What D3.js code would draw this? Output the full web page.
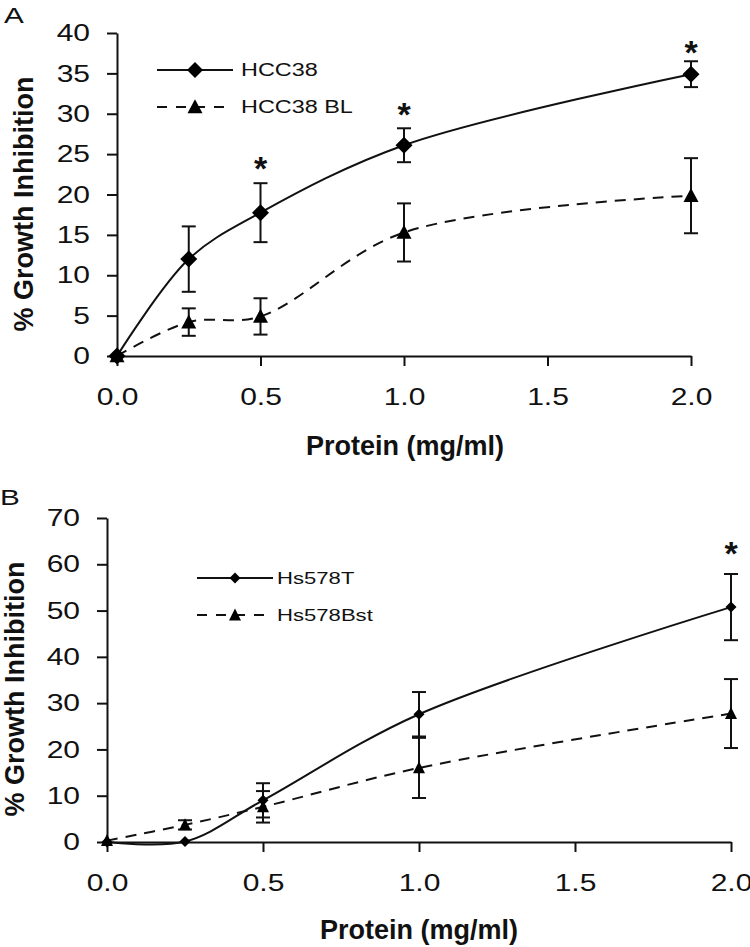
<!DOCTYPE html>
<html>
<head>
<meta charset="utf-8">
<script src="https://cdn.jsdelivr.net/npm/d3@7"></script>
<style>
  html, body { margin: 0; padding: 0; background: #fff; }
  svg { display: block; }
  text { font-family: "Liberation Sans", Arial, sans-serif; fill: #111; }
</style>
</head>
<body>
<svg id="chart" width="750" height="947"></svg>
<script>
// ---------- data ----------
const doses = [0, 0.25, 0.5, 1.0, 2.0];
const xTicks = [0, 0.5, 1.0, 1.5, 2.0];

// Panel A
const hcc38      = [0, 12.0, 17.75, 26.1, 34.9];
const hcc38Err   = [0, 4.05, 3.65, 2.1, 1.6];
const hcc38BL    = [0, 4.2, 4.9, 15.3, 19.85];
const hcc38BLErr = [0, 1.7, 2.25, 3.6, 4.65];
const yTicksA    = [0, 5, 10, 15, 20, 25, 30, 35, 40];
const starXA     = [0.5, 1.0, 2.0];
const starYA     = [24.0, 30.7, 38.4];

// Panel B
const hs578T      = [0, 0.1, 9.0, 27.6, 50.75];
const hs578TErr   = [0, 0, 3.7, 4.8, 7.15];
const hs578Bst    = [0.3, 3.7, 7.6, 16.0, 27.75];
const hs578BstErr = [0, 1.0, 3.4, 6.5, 7.45];
const yTicksB     = [0, 10, 20, 30, 40, 50, 60, 70];
const starXB      = [2.0];
const starYB      = [63.7];

// ---------- drawing ----------
const svg = d3.select("#chart");

function stretch(sel, k) {
  sel.each(function () {
    const len = this.getComputedTextLength();
    d3.select(this).attr("textLength", len * k).attr("lengthAdjust", "spacingAndGlyphs");
  });
}

function diamondPath(r) {
  return `M0,${-r}L${r},0L0,${r}L${-r},0Z`;
}
function trianglePath(w, h) {
  const top = -h * 0.55, bot = h * 0.45;
  return `M0,${top}L${w},${bot}L${-w},${bot}Z`;
}

function panel(cfg) {
  const x = d3.scaleLinear().domain([0, 2]).range(cfg.xr);
  const y = d3.scaleLinear().domain([0, cfg.ymax]).range(cfg.yr);
  const g = svg.append("g");

  // axes
  const yAxis = d3.axisLeft(y).tickValues(cfg.yTicks).tickSize(10).tickSizeOuter(0).tickPadding(17)
    .tickFormat(d3.format("d"));
  const xAxis = d3.axisBottom(x).tickValues(xTicks).tickSize(10).tickSizeOuter(0).tickPadding(22)
    .tickFormat(d3.format(".1f"));

  const gy = g.append("g").attr("transform", `translate(${cfg.xr[0]},0)`).call(yAxis);
  const gx = g.append("g").attr("transform", `translate(0,${cfg.yr[0]})`).call(xAxis);
  [gx, gy].forEach(a => {
    a.select(".domain").attr("stroke", "#111").attr("stroke-width", 2);
    a.selectAll(".tick line").attr("stroke", "#111").attr("stroke-width", 2);
    a.selectAll(".tick text").attr("font-size", 24).attr("fill", "#222")
      .attr("font-family", "Liberation Sans, Arial, sans-serif");
    stretch(a.selectAll(".tick text"), 1.25);
  });

  // lines
  const line = d3.line().x((d, i) => x(doses[i])).y(d => y(d)).curve(d3.curveCatmullRom.alpha(0.5));

  g.append("path").datum(cfg.s2).attr("d", line).attr("fill", "none")
    .attr("stroke", "#111").attr("stroke-width", 2).attr("stroke-dasharray", "11,8");
  g.append("path").datum(cfg.s1).attr("d", line).attr("fill", "none")
    .attr("stroke", "#111").attr("stroke-width", 2);

  // error bars
  function errBars(vals, errs) {
    const eg = g.append("g").attr("stroke", "#111").attr("stroke-width", 2);
    vals.forEach((v, i) => {
      const e = errs[i];
      if (!e) return;
      const cx = x(doses[i]);
      const y1 = y(v + e), y0 = y(v - e);
      eg.append("line").attr("x1", cx).attr("x2", cx).attr("y1", y1).attr("y2", y0);
      eg.append("line").attr("x1", cx - 7).attr("x2", cx + 7).attr("y1", y1).attr("y2", y1);
      eg.append("line").attr("x1", cx - 7).attr("x2", cx + 7).attr("y1", y0).attr("y2", y0);
    });
  }
  errBars(cfg.s2, cfg.e2);
  errBars(cfg.s1, cfg.e1);

  // markers
  g.append("g").selectAll("path").data(cfg.s2).join("path")
    .attr("transform", (d, i) => `translate(${x(doses[i])},${y(d)})`)
    .attr("d", trianglePath(cfg.triW, cfg.triH)).attr("fill", "#000");
  g.append("g").selectAll("path").data(cfg.s1).join("path")
    .attr("transform", (d, i) => `translate(${x(doses[i])},${y(d)})`)
    .attr("d", diamondPath(cfg.dia)).attr("fill", "#000");

  // significance asterisks
  const sfs = 34;
  cfg.starX.forEach((sx, i) => {
    g.append("text").attr("x", x(sx)).attr("y", y(cfg.starY[i]) + 0.52 * sfs)
      .attr("text-anchor", "middle").attr("font-size", sfs).attr("font-weight", "bold").text("*");
  });

  // legend
  const lg = g.append("g");
  cfg.legend.forEach((L, i) => {
    const ly = cfg.legY[i];
    lg.append("line").attr("x1", cfg.legX[0]).attr("x2", cfg.legX[1]).attr("y1", ly).attr("y2", ly)
      .attr("stroke", "#111").attr("stroke-width", 2)
      .attr("stroke-dasharray", i === 1 ? "10,9" : null);
    const mx = (cfg.legX[0] + cfg.legX[1]) / 2;
    lg.append("path").attr("transform", `translate(${mx},${ly})`)
      .attr("d", i === 0 ? diamondPath(cfg.legDia) : trianglePath(cfg.triW, cfg.triH)).attr("fill", "#000");
    const t = lg.append("text").attr("x", cfg.legTextX).attr("y", ly + cfg.legFs * 0.36)
      .attr("font-size", cfg.legFs).text(L);
    stretch(t, 1.3);
  });

  // axis titles
  g.append("text").attr("x", cfg.xTitle[0]).attr("y", cfg.xTitle[1]).attr("text-anchor", "middle")
    .attr("font-size", 27).attr("font-weight", "bold").text("Protein (mg/ml)");
  g.append("text").attr("transform", `translate(${cfg.yTitle[0]},${cfg.yTitle[1]}) rotate(-90)`)
    .attr("text-anchor", "middle").attr("font-size", 27).attr("font-weight", "bold").text("% Growth Inhibition");

  // panel letter
  const pl = g.append("text").attr("x", cfg.letter[0]).attr("y", cfg.letter[1]).attr("font-size", 22).text(cfg.name);
  stretch(pl, 1.35);
}

panel({
  name: "A", xr: [117, 691], yr: [356, 33], ymax: 40, yTicks: yTicksA,
  s1: hcc38, e1: hcc38Err, s2: hcc38BL, e2: hcc38BLErr,
  dia: 8.5, triW: 7.5, triH: 14,
  starX: starXA, starY: starYA,
  legend: ["HCC38", "HCC38 BL"], legX: [157, 233], legY: [70, 107], legTextX: 241, legFs: 18, legDia: 8,
  xTitle: [405, 455], yTitle: [33, 204], letter: [4, 23]
});

panel({
  name: "B", xr: [107, 731], yr: [842, 518], ymax: 70, yTicks: yTicksB,
  s1: hs578T, e1: hs578TErr, s2: hs578Bst, e2: hs578BstErr,
  dia: 5.5, triW: 6, triH: 12,
  starX: starXB, starY: starYB,
  legend: ["Hs578T", "Hs578Bst"], legX: [197, 273], legY: [578, 615], legTextX: 277, legFs: 17, legDia: 5.5,
  xTitle: [419, 939], yTitle: [24, 689], letter: [0, 505]
});
</script>
</body>
</html>
